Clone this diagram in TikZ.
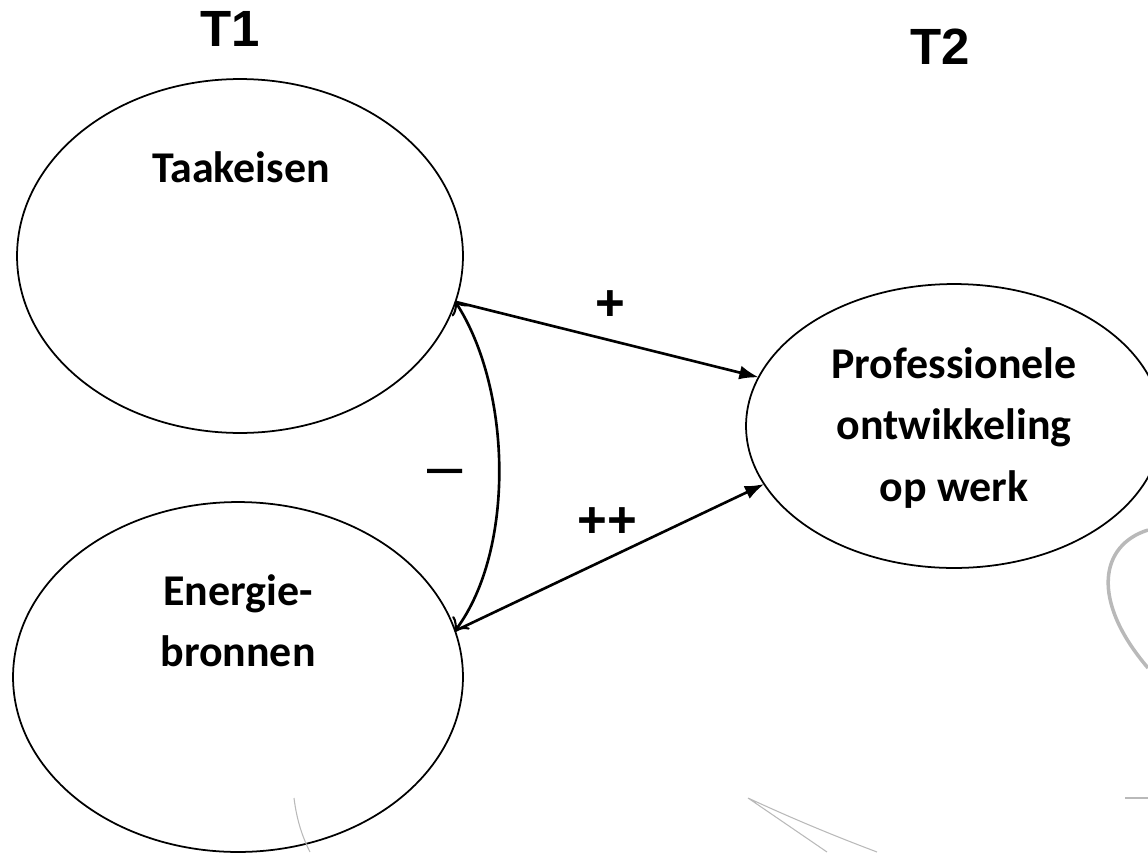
\documentclass[tikz,border=0pt]{standalone}
\usepackage{fontspec}
\setmainfont{Carlito}
\newfontfamily\arialfont{Liberation Sans}
\usetikzlibrary{shapes.geometric,arrows.meta}

\begin{document}
\begin{tikzpicture}[x=0.02cm, y=-0.02cm,
  latent/.style={draw, ellipse, line width=1pt, inner sep=0pt, outer sep=0pt},
  lbl/.style={font=\bfseries\fontsize{25}{34.7}\selectfont, align=center},
  tlbl/.style={font=\arialfont\bfseries\fontsize{29}{34}\selectfont},
  effect/.style={line width=1.5pt, -{Latex[length=11pt,width=8pt]}},
  cov/.style={line width=1.5pt, {Classical TikZ Rightarrow[scale=1.6]}-{Classical TikZ Rightarrow[scale=1.6]}},
  scan/.style={draw=gray!55, line width=0.6pt}]
\useasboundingbox (0,0) rectangle (1148,852);
% latent variables
\node[latent, minimum width=8.92cm, minimum height=7.08cm] (taak) at (240,256) {};
\node[latent, minimum width=9cm, minimum height=7cm] (energie) at (238,677) {};
\node[latent, minimum width=8.32cm, minimum height=5.68cm] (prof) at (954,426) {};
\node[lbl, anchor=base] (taaktxt) at (241,182) {Taakeisen};
\node[lbl] (energietxt) at (238,621) {Energie-\\bronnen};
\node[lbl, font=\bfseries\fontsize{25}{35}\selectfont] (proftxt) at (954,428) {Professionele\\ontwikkeling\\op werk};
% time points
\node[tlbl, anchor=base] (t1) at (230,46) {T1};
\node[tlbl, anchor=base] (t2) at (940,64) {T2};
% paths
\draw[effect] (taak.-12.5) -- (prof.166.6);
\draw[effect] (energie.12) -- (prof.197);
\draw[cov] (taak.-12.5) .. controls (512,390) and (515,550) .. (energie.12); % correlation
\node[tlbl] (plus) at (610,306) {+};
\node[tlbl] (plusplus) at (607,523) {++};
\node[font=\arialfont\fontsize{36}{40}\selectfont, anchor=base] (minus) at (445,487) {–};
% scan marks
\draw[scan, line width=2pt] (1148,530) .. controls (1100,545) and (1090,600) .. (1148,668);
\draw[scan] (1125,798) -- (1148,798);
\draw[scan] (827,852) -- (748,798) .. controls (800,822) and (840,838) .. (877,852);
\draw[scan] (294,798) .. controls (297,822) and (303,838) .. (310,852);
\end{tikzpicture}
\end{document}
